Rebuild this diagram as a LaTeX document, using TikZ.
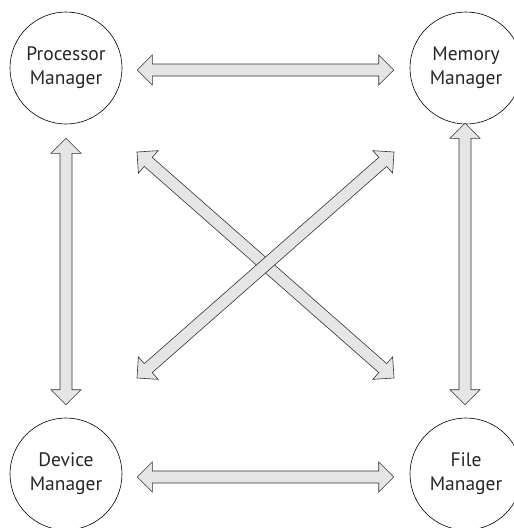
\documentclass[tikz,border=0pt]{standalone}
\usepackage{fontspec}
\setmainfont{PT Sans}
\usetikzlibrary{calc,positioning}

% fat two-headed arrow between two tip points
\newcommand\fatarrow[2]{%
  \filldraw[fat]
    (#1) -- ($(#1)!15pt!(#2)!15pt!90:(#2)$)
    -- ($(#1)!15pt!(#2)!6pt!90:(#2)$)
    -- ($(#2)!15pt!(#1)!6pt!-90:(#1)$)
    -- ($(#2)!15pt!(#1)!15pt!-90:(#1)$)
    -- (#2) -- ($(#2)!15pt!(#1)!15pt!90:(#1)$)
    -- ($(#2)!15pt!(#1)!6pt!90:(#1)$)
    -- ($(#1)!15pt!(#2)!6pt!-90:(#2)$)
    -- ($(#1)!15pt!(#2)!15pt!-90:(#2)$) -- cycle;}

\begin{document}
\begin{tikzpicture}[x=1pt, y=-1pt,
  font=\fontsize{19.5}{24}\selectfont,
  mgr/.style={draw, circle, minimum size=112pt, inner sep=0pt,
              align=center, line width=0.6pt, text=black!85},
  fat/.style={fill=black!10, draw=black!80, line width=0.6pt,
              line join=miter}]
\useasboundingbox (0,0) rectangle (514,528);

\node[mgr] (proc) at (66,68)  {Processor\\Manager};
\node[mgr] (mem)  at (466,68) {Memory\\Manager};
\node[mgr] (dev)  at (66,474) {Device\\Manager};
\node[mgr] (file) at (466,474) {File\\Manager};

% arrow tips, kept clear of the circles
\coordinate (proc-e) at ($(proc.east)+(15,2)$);
\coordinate (mem-w)  at ($(mem.west)+(-16,2)$);
\coordinate (dev-e)  at ($(dev.east)+(15,3)$);
\coordinate (file-w) at ($(file.west)+(-16,3)$);
\coordinate (proc-s) at ($(proc.south)+(0,14)$);
\coordinate (dev-n)  at ($(dev.north)+(0,-13)$);
\coordinate (mem-s)  at ($(mem.south)+(-1,-1)$);
\coordinate (file-n) at ($(file.north)+(-1,-13)$);
\coordinate (proc-se) at ($(proc)+(71,84)$);
\coordinate (file-nw) at ($(file)+(-72,-96)$);
\coordinate (mem-sw)  at ($(mem)+(-72,84)$);
\coordinate (dev-ne)  at ($(dev)+(71,-96)$);

\fatarrow{proc-e}{mem-w}
\fatarrow{dev-e}{file-w}
\fatarrow{proc-s}{dev-n}
\fatarrow{mem-s}{file-n}
\fatarrow{proc-se}{file-nw}
\fatarrow{mem-sw}{dev-ne}
\end{tikzpicture}
\end{document}
